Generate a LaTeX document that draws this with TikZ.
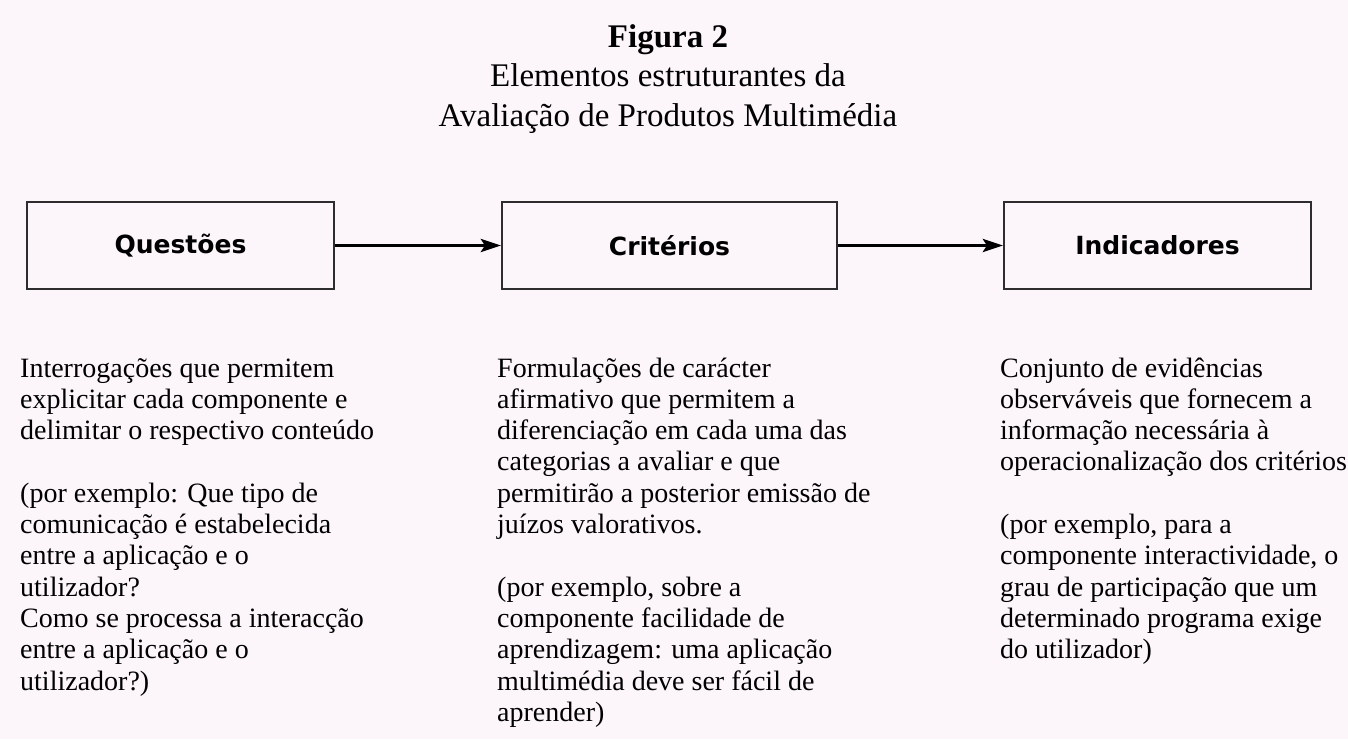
\documentclass[tikz,border=0pt]{standalone}
\usepackage{fontspec}
\setmainfont{Liberation Serif}
\newfontfamily\boxfont{DejaVu Sans}
\usetikzlibrary{arrows.meta}
\definecolor{bgpink}{RGB}{252,246,250}
\definecolor{boxline}{RGB}{45,45,45}
\begin{document}
\begin{tikzpicture}[x=1pt,y=-1pt,
  stagebox/.style={draw=boxline,line width=2.2pt,minimum height=87pt,inner sep=0pt,
    font=\boxfont\bfseries\fontsize{25}{30}\selectfont},
  flow/.style={line width=3.3pt,-{Stealth[length=20pt,width=13pt,inset=4pt]}},
  bodytext/.style={anchor=base west,inner sep=0pt,font=\fontsize{28}{31.3}\selectfont},
  titletext/.style={anchor=base,inner sep=0pt,font=\fontsize{33}{39.5}\selectfont}]
\fill[bgpink] (0,0) rectangle (1348,739);
\useasboundingbox (0,0) rectangle (1348,739);

\node[titletext] (title) at (668,47) {\parbox[t]{700pt}{\centering
  \fontsize{33}{39.5}\selectfont
  \textbf{Figura 2}\\
  Elementos estruturantes da\\
  Avaliação de Produtos Multimédia}};

\node[stagebox,minimum width=307pt] (q) at (180.5,245.5) {Questões};
\node[stagebox,minimum width=335pt] (c) at (669.5,245.5) {Critérios};
\node[stagebox,minimum width=307pt] (i) at (1157.5,245.5) {Indicadores};

\draw[flow] (q.east) -- (c.west);
\draw[flow] (c.east) -- (i.west);

\node[bodytext] (tq) at (20,377) {\parbox[t]{470pt}{\raggedright
Interrogações que permitem\\
explicitar cada componente e\\
delimitar o respectivo conteúdo\\[31.3pt]
(por exemplo: Que tipo de\\
comunicação é estabelecida\\
entre a aplicação e o\\
utilizador?\\
Como se processa a interacção\\
entre a aplicação e o\\
utilizador?)}};

\node[bodytext] (tc) at (497,377) {\parbox[t]{480pt}{\raggedright
Formulações de carácter\\
afirmativo que permitem a\\
diferenciação em cada uma das\\
categorias a avaliar e que\\
permitirão a posterior emissão de\\
juízos valorativos.\\[31.3pt]
(por exemplo, sobre a\\
componente facilidade de\\
aprendizagem: uma aplicação\\
multimédia deve ser fácil de\\
aprender)}};

\node[bodytext] (ti) at (1000,377) {\parbox[t]{400pt}{\raggedright
Conjunto de evidências\\
observáveis que fornecem a\\
informação necessária à\\
operacionalização dos critérios\\[31.3pt]
(por exemplo, para a\\
componente interactividade, o\\
grau de participação que um\\
determinado programa exige\\
do utilizador)}};
\end{tikzpicture}
\end{document}
